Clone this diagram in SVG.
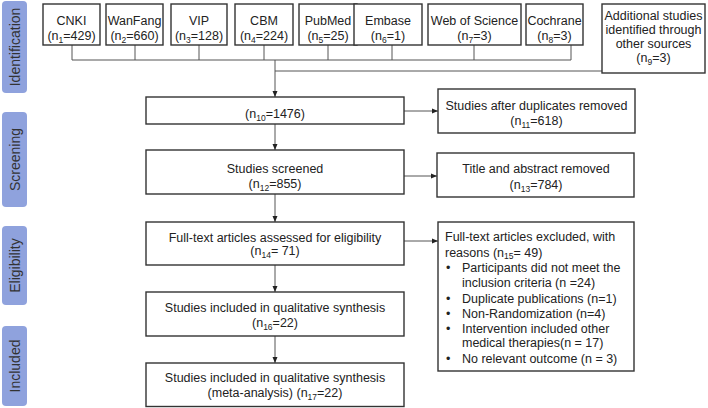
<svg xmlns="http://www.w3.org/2000/svg" width="708" height="408" viewBox="0 0 708 408">
<defs>
<marker id="ah" viewBox="0 0 6 6" refX="6" refY="3" markerWidth="6" markerHeight="6" markerUnits="userSpaceOnUse" orient="auto">
<path d="M0,0.5 L6,3 L0,5.5 Z" fill="#222"/>
</marker>
</defs>
<style>
text{font-family:"Liberation Sans",Arial,sans-serif;font-size:12.5px;fill:#222}
.c{text-anchor:middle}
.box{fill:#fff;stroke:#333;stroke-width:1.4}
.lab{fill:#8fa2dd}
.lt{font-size:14px;fill:#333;text-anchor:middle}
.ln{fill:none;stroke:#555;stroke-width:1}
.s{font-size:8.5px}
</style>
<rect width="708" height="408" fill="#fff"/>
<g id="stages">
<rect class="lab" x="2" y="1" width="25" height="92" rx="4"/>
<text class="lt" transform="translate(19.5,47) rotate(-90)">Identification</text>
<rect class="lab" x="2" y="112" width="25" height="95" rx="4"/>
<text class="lt" transform="translate(19.5,159.5) rotate(-90)">Screening</text>
<rect class="lab" x="2" y="226" width="25" height="79" rx="4"/>
<text class="lt" transform="translate(19.5,265.5) rotate(-90)">Eligibility</text>
<rect class="lab" x="2" y="326" width="25" height="80" rx="4"/>
<text class="lt" transform="translate(19.5,366) rotate(-90)">Included</text>
</g>
<g id="connectors">
<path class="ln" d="M72,45V60M135,45V60M199,45V60M264,45V60M328,45V60M392,45V60M474,45V60M571,45V60M72,60H571"/>
<path class="ln" d="M275,71H602"/>
<path class="ln" d="M275,60V97" marker-end="url(#ah)"/>
<path class="ln" d="M275,124V150" marker-end="url(#ah)"/>
<path class="ln" d="M275,194V222" marker-end="url(#ah)"/>
<path class="ln" d="M275,265V292" marker-end="url(#ah)"/>
<path class="ln" d="M275,336V363" marker-end="url(#ah)"/>
<path class="ln" d="M404,111H438" marker-end="url(#ah)"/>
<path class="ln" d="M404,176H437" marker-end="url(#ah)"/>
<path class="ln" d="M404,241H438" marker-end="url(#ah)"/>
</g>
<g id="cnki"><rect class="box" x="43" y="4" width="57" height="41"/>
<text class="c" x="71.5" y="24.5">CNKI</text><text class="c" x="71.5" y="39.5">(n<tspan class="s" dy="3">1</tspan><tspan dy="-3">=429)</tspan></text></g>
<g id="wanfang"><rect class="box" x="106" y="4" width="57" height="41"/>
<text class="c" x="134.5" y="24.5">WanFang</text><text class="c" x="134.5" y="39.5">(n<tspan class="s" dy="3">2</tspan><tspan dy="-3">=660)</tspan></text></g>
<g id="vip"><rect class="box" x="171" y="4" width="56" height="41"/>
<text class="c" x="199" y="24.5">VIP</text><text class="c" x="199" y="39.5">(n<tspan class="s" dy="3">3</tspan><tspan dy="-3">=128)</tspan></text></g>
<g id="cbm"><rect class="box" x="235" y="4" width="58" height="41"/>
<text class="c" x="264" y="24.5">CBM</text><text class="c" x="264" y="39.5">(n<tspan class="s" dy="3">4</tspan><tspan dy="-3">=224)</tspan></text></g>
<g id="pubmed"><rect class="box" x="299" y="4" width="58" height="41"/>
<text class="c" x="328" y="24.5">PubMed</text><text class="c" x="328" y="39.5">(n<tspan class="s" dy="3">5</tspan><tspan dy="-3">=25)</tspan></text></g>
<g id="embase"><rect class="box" x="354" y="4" width="68" height="41"/>
<text class="c" x="388" y="24.5">Embase</text><text class="c" x="388" y="39.5">(n<tspan class="s" dy="3">6</tspan><tspan dy="-3">=1)</tspan></text></g>
<g id="wos"><rect class="box" x="428" y="4" width="93" height="41"/>
<text class="c" x="474.5" y="24.5">Web of Science</text><text class="c" x="474.5" y="39.5">(n<tspan class="s" dy="3">7</tspan><tspan dy="-3">=3)</tspan></text></g>
<g id="cochrane"><rect class="box" x="526" y="4" width="57" height="41"/>
<text class="c" x="554.5" y="24.5">Cochrane</text><text class="c" x="554.5" y="39.5">(n<tspan class="s" dy="3">8</tspan><tspan dy="-3">=3)</tspan></text></g>
<g id="additional"><rect class="box" x="602" y="4" width="103" height="69"/>
<text class="c" x="653.5" y="19.5">Additional studies</text>
<text class="c" x="653.5" y="33.5">identified through</text>
<text class="c" x="653.5" y="47.5">other sources</text>
<text class="c" x="653.5" y="62">(n<tspan class="s" dy="3">9</tspan><tspan dy="-3">=3)</tspan></text></g>
<g id="n10"><rect class="box" x="146" y="97" width="258" height="27"/>
<text class="c" x="275" y="117.5">(n<tspan class="s" dy="3">10</tspan><tspan dy="-3">=1476)</tspan></text></g>
<g id="dups"><rect class="box" x="438" y="89" width="197" height="44"/>
<text class="c" x="536.5" y="109.5">Studies after duplicates removed</text>
<text class="c" x="536.5" y="124.5">(n<tspan class="s" dy="3">11</tspan><tspan dy="-3">=618)</tspan></text></g>
<g id="screened"><rect class="box" x="146" y="150" width="258" height="44"/>
<text class="c" x="275" y="172.5">Studies screened</text>
<text class="c" x="275" y="187.5">(n<tspan class="s" dy="3">12</tspan><tspan dy="-3">=855)</tspan></text></g>
<g id="titleabs"><rect class="box" x="437" y="153" width="197" height="44"/>
<text class="c" x="536" y="172.5">Title and abstract removed</text>
<text class="c" x="536" y="188.5">(n<tspan class="s" dy="3">13</tspan><tspan dy="-3">=784)</tspan></text></g>
<g id="fulltext"><rect class="box" x="146" y="222" width="258" height="43"/>
<text class="c" x="275" y="241.5">Full-text articles assessed for eligibility</text>
<text class="c" x="275" y="255">(n<tspan class="s" dy="3">14</tspan><tspan dy="-3">= 71)</tspan></text></g>
<g id="excluded"><rect class="box" x="438" y="222" width="196" height="149"/>
<text x="445" y="241">Full-text articles excluded, with</text>
<text x="445" y="256.5">reasons (n<tspan class="s" dy="2">15</tspan><tspan dy="-2">= 49)</tspan></text>
<text x="446" y="272">•</text><text x="462" y="272">Participants did not meet the</text>
<text x="462" y="287">inclusion criteria (n =24)</text>
<text x="446" y="302.5">•</text><text x="462" y="302.5">Duplicate publications (n=1)</text>
<text x="446" y="317.5">•</text><text x="462" y="317.5">Non-Randomization (n=4)</text>
<text x="446" y="332.5">•</text><text x="462" y="332.5">Intervention included other</text>
<text x="462" y="347">medical therapies(n = 17)</text>
<text x="446" y="362.5">•</text><text x="462" y="362.5">No relevant outcome (n = 3)</text></g>
<g id="qual"><rect class="box" x="146" y="292" width="258" height="44"/>
<text class="c" x="275" y="311.5">Studies included in qualitative synthesis</text>
<text class="c" x="275" y="326.5">(n<tspan class="s" dy="3">16</tspan><tspan dy="-3">=22)</tspan></text></g>
<g id="meta"><rect class="box" x="146" y="363" width="258" height="43.5"/>
<text class="c" x="275" y="381.5">Studies included in qualitative synthesis</text>
<text class="c" x="275" y="396.5">(meta-analysis) (n<tspan class="s" dy="3">17</tspan><tspan dy="-3">=22)</tspan></text></g>
</svg>
